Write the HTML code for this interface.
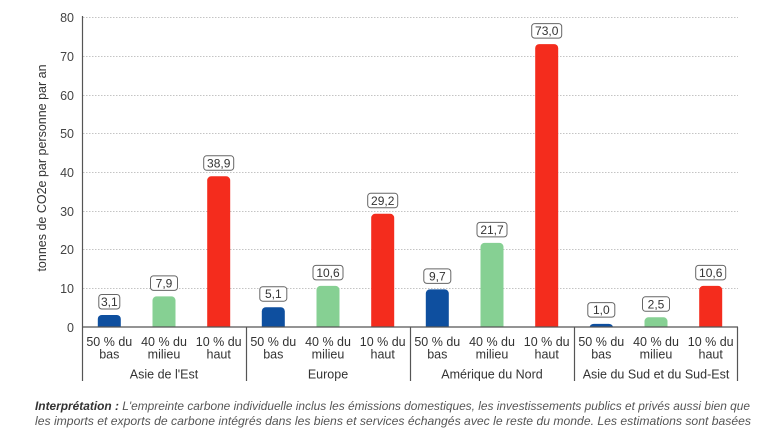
<!DOCTYPE html>
<html><head><meta charset="utf-8"><style>
html,body{margin:0;padding:0;background:#fff;}
svg{display:block;font-family:"Liberation Sans",sans-serif;}
</style></head><body>
<svg width="770" height="433" viewBox="0 0 770 433" xmlns="http://www.w3.org/2000/svg">
<rect width="770" height="433" fill="#fff"/>
<!-- gridlines -->
<g stroke="#c4c4c4" stroke-width="1" stroke-dasharray="1.5,1.5">
<line x1="83" x2="738" y1="17.5" y2="17.5"/>
<line x1="83" x2="738" y1="56.5" y2="56.5"/>
<line x1="83" x2="738" y1="95.5" y2="95.5"/>
<line x1="83" x2="738" y1="133.5" y2="133.5"/>
<line x1="83" x2="738" y1="172.5" y2="172.5"/>
<line x1="83" x2="738" y1="211.5" y2="211.5"/>
<line x1="83" x2="738" y1="249.5" y2="249.5"/>
<line x1="83" x2="738" y1="288.5" y2="288.5"/>
</g>
<!-- tick labels -->
<g font-size="12.5" fill="#444" text-anchor="end">
<text x="74" y="22">80</text>
<text x="74" y="61">70</text>
<text x="74" y="100">60</text>
<text x="74" y="138">50</text>
<text x="74" y="177">40</text>
<text x="74" y="216">30</text>
<text x="74" y="254">20</text>
<text x="74" y="293">10</text>
<text x="74" y="332">0</text>
</g>
<text transform="translate(46,168) rotate(-90)" font-size="12.5" fill="#333" text-anchor="middle">tonnes de CO2e par personne par an</text>
<!-- bars -->
<g>
<path d="M97.8 327 V319 a4 4 0 0 1 4 -4 H116.8 a4 4 0 0 1 4 4 V327 Z" fill="#0e4f9f"/>
<path d="M152.5 327 V300.4 a4 4 0 0 1 4 -4 H171.5 a4 4 0 0 1 4 4 V327 Z" fill="#86d093"/>
<path d="M207.2 327 V180.3 a4 4 0 0 1 4 -4 H226.2 a4 4 0 0 1 4 4 V327 Z" fill="#f42c1d"/>
<path d="M261.8 327 V311.2 a4 4 0 0 1 4 -4 H280.8 a4 4 0 0 1 4 4 V327 Z" fill="#0e4f9f"/>
<path d="M316.5 327 V289.9 a4 4 0 0 1 4 -4 H335.5 a4 4 0 0 1 4 4 V327 Z" fill="#86d093"/>
<path d="M371.2 327 V217.8 a4 4 0 0 1 4 -4 H390.2 a4 4 0 0 1 4 4 V327 Z" fill="#f42c1d"/>
<path d="M425.8 327 V293.4 a4 4 0 0 1 4 -4 H444.8 a4 4 0 0 1 4 4 V327 Z" fill="#0e4f9f"/>
<path d="M480.5 327 V246.9 a4 4 0 0 1 4 -4 H499.5 a4 4 0 0 1 4 4 V327 Z" fill="#86d093"/>
<path d="M535.2 327 V48.1 a4 4 0 0 1 4 -4 H554.2 a4 4 0 0 1 4 4 V327 Z" fill="#f42c1d"/>
<path d="M589.8 327 V327 a4 3.1 0 0 1 4 -3.1 H608.8 a4 3.1 0 0 1 4 3.1 V327 Z" fill="#0e4f9f"/>
<path d="M644.5 327 V321.3 a4 4 0 0 1 4 -4 H663.5 a4 4 0 0 1 4 4 V327 Z" fill="#86d093"/>
<path d="M699.2 327 V289.9 a4 4 0 0 1 4 -4 H718.2 a4 4 0 0 1 4 4 V327 Z" fill="#f42c1d"/>
</g>
<!-- value boxes -->
<g fill="#fff" stroke="#666" stroke-width="1">
<rect x="98.8" y="294.5" width="21" height="14.5" rx="3"/>
<rect x="150.5" y="275.9" width="27" height="14.5" rx="3"/>
<rect x="203.7" y="155.8" width="30" height="14.5" rx="3"/>
<rect x="259.8" y="286.7" width="27" height="14.5" rx="3"/>
<rect x="313" y="265.4" width="30" height="14.5" rx="3"/>
<rect x="367.7" y="193.3" width="30" height="14.5" rx="3"/>
<rect x="423.8" y="268.9" width="27" height="14.5" rx="3"/>
<rect x="477" y="222.4" width="30" height="14.5" rx="3"/>
<rect x="531.7" y="23.6" width="30" height="14.5" rx="3"/>
<rect x="587.8" y="302.6" width="27" height="14.5" rx="3"/>
<rect x="642.5" y="296.8" width="27" height="14.5" rx="3"/>
<rect x="695.7" y="265.4" width="30" height="14.5" rx="3"/>
</g>
<g font-size="12" fill="#333" text-anchor="middle">
<text x="109.3" y="306">3,1</text>
<text x="164" y="287.4">7,9</text>
<text x="218.7" y="167.3">38,9</text>
<text x="273.3" y="298.2">5,1</text>
<text x="328" y="276.9">10,6</text>
<text x="382.7" y="204.8">29,2</text>
<text x="437.3" y="280.4">9,7</text>
<text x="492" y="233.9">21,7</text>
<text x="546.7" y="35.1">73,0</text>
<text x="601.3" y="314.1">1,0</text>
<text x="656" y="308.3">2,5</text>
<text x="710.7" y="276.9">10,6</text>
</g>
<!-- axes -->
<g stroke="#555" stroke-width="1.2">
<line x1="82.5" x2="82.5" y1="16" y2="381"/>
<line x1="82" x2="738" y1="327" y2="327"/>
<line x1="246.5" x2="246.5" y1="327" y2="381"/>
<line x1="410.5" x2="410.5" y1="327" y2="381"/>
<line x1="574.5" x2="574.5" y1="327" y2="381"/>
<line x1="737.5" x2="737.5" y1="327" y2="381"/>
</g>
<!-- category labels -->
<g font-size="12.5" fill="#333" text-anchor="middle">
<text x="109.3" y="346">50 % du</text><text x="109.3" y="358.5">bas</text>
<text x="164" y="346">40 % du</text><text x="164" y="358.5">milieu</text>
<text x="218.7" y="346">10 % du</text><text x="218.7" y="358.5">haut</text>
<text x="273.3" y="346">50 % du</text><text x="273.3" y="358.5">bas</text>
<text x="328" y="346">40 % du</text><text x="328" y="358.5">milieu</text>
<text x="382.7" y="346">10 % du</text><text x="382.7" y="358.5">haut</text>
<text x="437.3" y="346">50 % du</text><text x="437.3" y="358.5">bas</text>
<text x="492" y="346">40 % du</text><text x="492" y="358.5">milieu</text>
<text x="546.7" y="346">10 % du</text><text x="546.7" y="358.5">haut</text>
<text x="601.3" y="346">50 % du</text><text x="601.3" y="358.5">bas</text>
<text x="656" y="346">40 % du</text><text x="656" y="358.5">milieu</text>
<text x="710.7" y="346">10 % du</text><text x="710.7" y="358.5">haut</text>
<text x="164" y="378.5">Asie de l'Est</text>
<text x="328" y="378.5">Europe</text>
<text x="492" y="378.5">Amérique du Nord</text>
<text x="656" y="378.5">Asie du Sud et du Sud-Est</text>
</g>
<!-- footnote -->
<g font-size="12" font-style="italic" fill="#555">
<text x="35" y="410" textLength="715" lengthAdjust="spacingAndGlyphs"><tspan font-weight="bold" fill="#333">Interprétation :</tspan> L'empreinte carbone individuelle inclus les émissions domestiques, les investissements publics et privés aussi bien que</text>
<text x="35" y="425" textLength="716" lengthAdjust="spacingAndGlyphs">les imports et exports de carbone intégrés dans les biens et services échangés avec le reste du monde. Les estimations sont basées</text>
</g>
</svg>
</body></html>
